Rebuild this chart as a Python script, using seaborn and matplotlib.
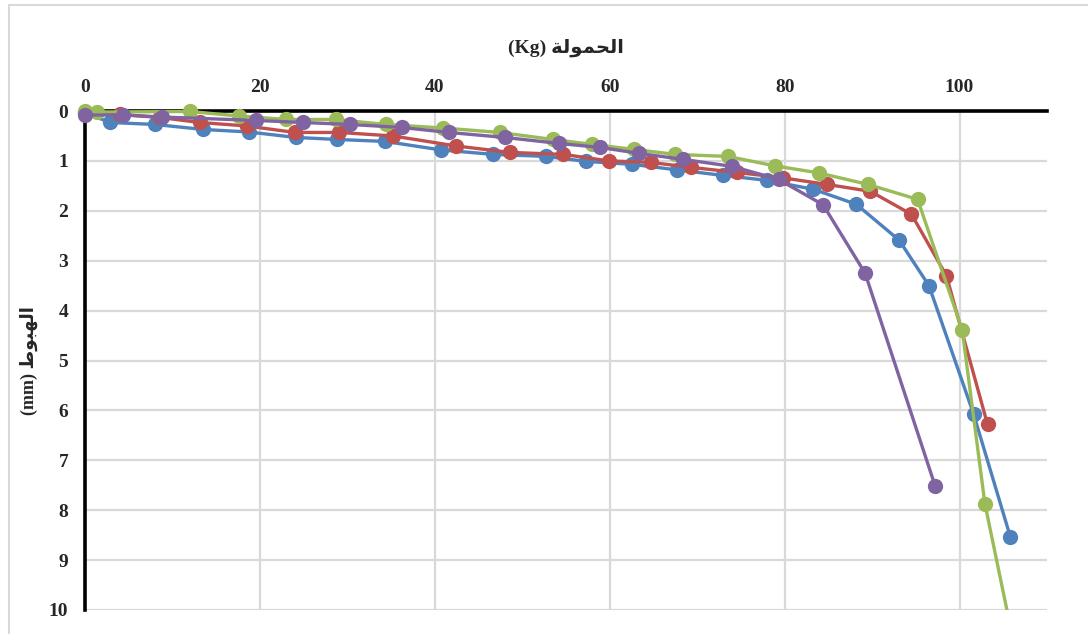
import matplotlib
matplotlib.use("Agg")
import matplotlib.pyplot as plt
from matplotlib.lines import Line2D
from matplotlib.transforms import Bbox, TransformedBbox
import seaborn as sns
import pandas as pd

# ---- data ----
series_names = ["S1", "S2", "S3", "S4"]
colors = ["#4F81BD", "#C0504D", "#9BBB59", "#8064A2"]

blue_x = [0, 2.9, 8.0, 13.5, 18.7, 24.1, 28.8, 34.3, 40.7, 46.7, 52.7, 57.3, 62.6, 67.7, 72.9, 78.0, 83.3, 88.2, 93.1, 96.5, 101.6, 105.8]
blue_y = [0.04, 0.23, 0.27, 0.37, 0.42, 0.53, 0.57, 0.61, 0.78, 0.87, 0.91, 1.01, 1.07, 1.18, 1.29, 1.39, 1.57, 1.87, 2.59, 3.50, 6.07, 8.53]

red_x = [0, 4.0, 8.6, 13.1, 18.5, 24.0, 29.1, 35.2, 42.4, 48.6, 54.7, 59.9, 64.7, 69.3, 74.5, 79.8, 84.8, 89.8, 94.5, 98.5, 103.2]
red_y = [0.02, 0.07, 0.13, 0.23, 0.30, 0.43, 0.43, 0.50, 0.70, 0.83, 0.87, 1.00, 1.03, 1.13, 1.23, 1.34, 1.47, 1.61, 2.07, 3.30, 6.28]

green_x = [0, 1.4, 12.0, 17.6, 23.0, 28.7, 34.4, 40.9, 47.4, 53.5, 58.0, 62.8, 67.5, 73.5, 78.9, 83.9, 89.5, 95.2, 100.3, 102.9, 106.6]
green_y = [0.0, 0.02, 0.01, 0.10, 0.17, 0.17, 0.27, 0.34, 0.43, 0.57, 0.67, 0.77, 0.87, 0.91, 1.10, 1.24, 1.47, 1.77, 4.38, 7.87, 11.0]

purple_x = [0, 4.4, 8.8, 19.6, 24.9, 30.3, 36.2, 41.6, 48.0, 54.2, 58.9, 63.4, 68.4, 74.0, 79.3, 84.4, 89.2, 97.2]
purple_y = [0.08, 0.08, 0.12, 0.19, 0.23, 0.27, 0.33, 0.43, 0.53, 0.65, 0.73, 0.85, 0.97, 1.11, 1.37, 1.88, 3.25, 7.51]

x_ticks = [0, 20, 40, 60, 80, 100]
y_ticks = list(range(0, 11))

# Arabic titles (shaped presentation forms, visual order)
x_title = "(Kg) " + "\uFE94\uFEDF\uFEEE\uFEE4\uFEA4\uFEDF\uFE8D"   # الحمولة (Kg)
y_title = "(mm) " + "\uFEC1\uFEEE\uFE92\uFEEC\uFEDF\uFE8D"         # الهبوط (mm)

frames = []
for name, xs, ys in zip(series_names,
                        [blue_x, red_x, green_x, purple_x],
                        [blue_y, red_y, green_y, purple_y]):
    frames.append(pd.DataFrame({"load": xs, "settle": ys, "series": name}))
df = pd.concat(frames, ignore_index=True)

sns.set_style("white")
plt.rcParams["font.family"] = ["Liberation Serif", "DejaVu Sans"]

W, H = 1088, 634
fig = plt.figure(figsize=(W / 100, H / 100), dpi=100)
L, R, T, B = 85, 1047, 111, 610
ax = fig.add_axes([L / W, 1 - B / H, (R - L) / W, (B - T) / H])

sns.lineplot(data=df, x="load", y="settle", hue="series", hue_order=series_names,
             palette=colors, sort=False, estimator=None, legend=False,
             marker="o", markersize=11, markeredgewidth=0, linewidth=2.4, ax=ax,
             zorder=3)

ax.set_xlim(0, 110)
ax.set_ylim(10, 0)

# let markers at the top/left edges show fully, but clip at the bottom
clip = TransformedBbox(Bbox([[-0.03, 0.0], [1.0, 1.04]]), ax.transAxes)
for ln in ax.get_lines():
    ln.set_clip_box(clip)

ax.set_xticks(x_ticks)
ax.set_yticks(y_ticks)
ax.xaxis.tick_top()
ax.xaxis.set_label_position("top")
ax.tick_params(axis="both", length=0, labelsize=14)
ax.tick_params(axis="x", pad=11)
ax.tick_params(axis="y", pad=12)
for lab in ax.get_xticklabels() + ax.get_yticklabels():
    lab.set_fontweight("bold")

ax.grid(True, color="#D9D9D9", linewidth=1.6)
ax.set_axisbelow(True)
for s in ["right", "bottom"]:
    ax.spines[s].set_visible(False)
for s in ["top", "left"]:
    ax.spines[s].set_color("black")
    ax.spines[s].set_linewidth(2.6)
    ax.spines[s].set_zorder(2.5)

ax.set_xlabel(x_title, fontsize=14, fontweight="bold", labelpad=19)
ax.set_ylabel(y_title, fontsize=13, fontweight="bold", labelpad=8)

# outer chart frame (left and top edges visible)
fig.add_artist(Line2D([8.5 / W, 8.5 / W], [1 - 4.5 / H, 0], transform=fig.transFigure,
                      color="#D9D9D9", linewidth=1.5))
fig.add_artist(Line2D([8.5 / W, 1], [1 - 4.5 / H, 1 - 4.5 / H], transform=fig.transFigure,
                      color="#D9D9D9", linewidth=1.5))

fig.savefig("out.png", dpi=100, facecolor="white")
